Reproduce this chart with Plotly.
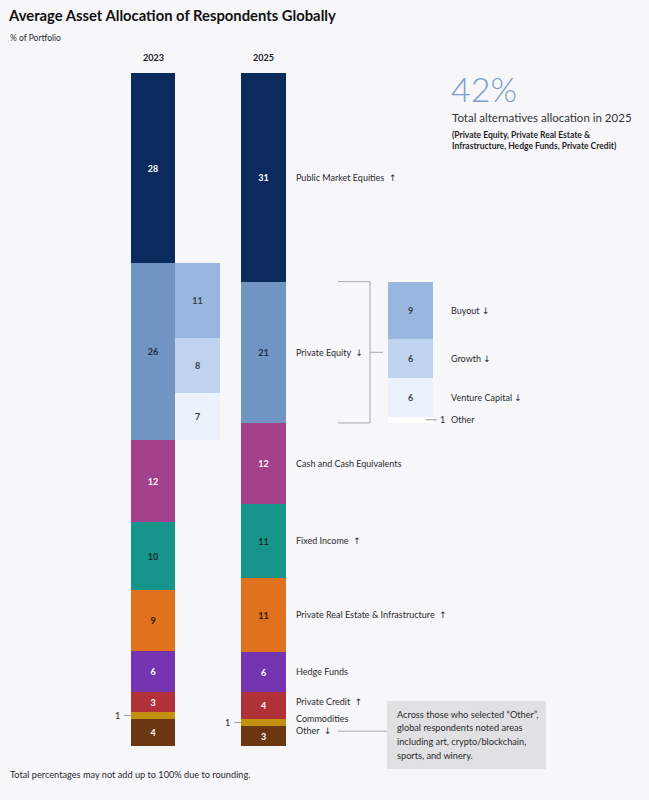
import numpy as np
import plotly.graph_objects as go

# data
years = ["2023", "2025"]
categories = ["Public Market Equities", "Private Equity", "Cash and Cash Equivalents",
              "Fixed Income", "Private Real Estate & Infrastructure", "Hedge Funds",
              "Private Credit", "Commodities", "Other"]
alloc_2023 = [28, 26, 12, 10, 9, 6, 3, 1, 4]
alloc_2025 = [31, 21, 12, 11, 11, 6, 4, 1, 3]
trend_2025 = ["↑", "↓", "", "↑", "↑", "", "↑", "", "↓"]

pe_sub_labels = ["Buyout", "Growth", "Venture Capital", "Other"]
pe_sub_2023 = [11, 8, 7]
pe_sub_2025 = [9, 6, 6, 1]
pe_sub_trend = ["↓", "↓", "↓", ""]
alt_total_2025 = 42

note_lines = ["Across those who selected “Other”,", "global respondents noted areas",
              "including art, crypto/blockchain,", "sports, and winery."]

# styling
colors = ["#0b2b5e", "#7195c3", "#a3418c", "#17958a", "#e0711d",
          "#7535b0", "#b03137", "#c2900c", "#6b3611"]
text_colors = ["white", "#1b2b4b", "white", "#1b2b2b", "#2b1b0b",
               "white", "white", "white", "white"]
sub_colors = ["#98b6de", "#bfd3ee", "#ebf2fb", "#ffffff"]
BG = "#f7f7fa"
FONT = "Lato, 'DejaVu Sans', sans-serif"
TXT = "#2a2a2a"

X23, X23_SUB, X25, X25_SUB = 153, 197.5, 263.5, 410.5
BAR_W = 44.5
TOP_PX, PX_PER_UNIT, H, W = 73, 6.73, 800, 649
LABEL_X = 294


def py(px):
    return 1 - px / H


def arrow(s):
    # arrows drawn with DejaVu so they stay plain dark glyphs
    return f"<span style='font-family:DejaVu Sans'>{s}</span>" if s else ""


# rounded shares don't always add to 100, each column is drawn full height
h23 = np.array(alloc_2023) * 100 / sum(alloc_2023)
h25 = np.array(alloc_2025) * 100 / sum(alloc_2025)
base23 = np.concatenate([[0], np.cumsum(h23)[:-1]])
base25 = np.concatenate([[0], np.cumsum(h25)[:-1]])

fig = go.Figure()

for i, cat in enumerate(categories):
    txt = ["", ""] if cat == "Commodities" else [str(alloc_2023[i]), str(alloc_2025[i])]
    fig.add_trace(go.Bar(
        x=[X23, X25], y=[h23[i], h25[i]], base=[base23[i], base25[i]],
        width=BAR_W, marker=dict(color=colors[i], line=dict(width=0)),
        text=txt, textposition="inside", insidetextanchor="middle", textangle=0,
        textfont=dict(color=text_colors[i], size=9, family=FONT, weight="bold"),
        name=cat, showlegend=False, hoverinfo="skip"))

# private equity breakdown, 2023 (next to the bar)
sub_h23 = np.array(pe_sub_2023) * h23[1] / sum(pe_sub_2023)
sub_base23 = base23[1] + np.concatenate([[0], np.cumsum(sub_h23)[:-1]])
for j, v in enumerate(pe_sub_2023):
    fig.add_trace(go.Bar(
        x=[X23_SUB], y=[sub_h23[j]], base=[sub_base23[j]], width=BAR_W,
        marker=dict(color=sub_colors[j], line=dict(width=0)),
        text=[str(v)], textposition="inside", insidetextanchor="middle", textangle=0,
        textfont=dict(color="#3a3f4a", size=9, family=FONT, weight="bold"),
        showlegend=False, hoverinfo="skip"))

# private equity breakdown, 2025 (bracketed, squeezed to the 21 it splits)
sub_h25 = np.array(pe_sub_2025) * h25[1] / sum(pe_sub_2025)
sub_base25 = base25[1] + np.concatenate([[0], np.cumsum(sub_h25)[:-1]])
for j, v in enumerate(pe_sub_2025):
    ym = sub_base25[j] + sub_h25[j] / 2
    fig.add_trace(go.Bar(
        x=[X25_SUB], y=[sub_h25[j]], base=[sub_base25[j]], width=BAR_W,
        marker=dict(color=sub_colors[j], line=dict(width=0)),
        text=[str(v) if v > 1 else ""], textposition="inside", insidetextanchor="middle",
        textangle=0, textfont=dict(color="#3a3f4a", size=9, family=FONT, weight="bold"),
        showlegend=False, hoverinfo="skip"))
    lab = pe_sub_labels[j] + (" " + arrow(pe_sub_trend[j]) if pe_sub_trend[j] else "")
    fig.add_annotation(x=449, y=ym, text=lab, xanchor="left",
                       yanchor="middle", showarrow=False,
                       font=dict(size=9, color=TXT, family=FONT))
    if v == 1:
        fig.add_annotation(x=437.5, y=ym, text=str(v), xanchor="left",
                           yanchor="middle", showarrow=False,
                           font=dict(size=9, color=TXT, family=FONT))
        fig.add_shape(type="line", x0=426, x1=437, y0=ym, y1=ym,
                      line=dict(color="#9a9a9a", width=1))

# bracket linking private equity to its breakdown
pe_top, pe_bot = base25[1], base25[1] + h25[1]
for x0, x1, y0, y1 in [(338, 370, pe_top, pe_top), (338, 370, pe_bot, pe_bot),
                       (370, 370, pe_top, pe_bot),
                       (370, 383, (pe_top + pe_bot) / 2, (pe_top + pe_bot) / 2)]:
    fig.add_shape(type="line", x0=x0, x1=x1, y0=y0, y1=y1,
                  line=dict(color="#a8a8a8", width=1))

# category labels to the right of 2025
label_shift = [0, 0, 0, 0, 0, 0, 4, 4, 5]
for i, cat in enumerate(categories):
    lab = cat + ("  " + arrow(trend_2025[i]) if trend_2025[i] else "")
    fig.add_annotation(x=LABEL_X, y=base25[i] + h25[i] / 2, yshift=label_shift[i],
                       text=lab, xanchor="left", yanchor="middle", showarrow=False,
                       font=dict(size=9, color=TXT, family=FONT))

# the tiny commodities slices get a call-out
ci = categories.index("Commodities")
for xc, b, hh, v in [(X23, base23[ci], h23[ci], alloc_2023[ci]),
                     (X25, base25[ci], h25[ci], alloc_2025[ci])]:
    ym = b + hh / 2
    left = xc - BAR_W / 2
    fig.add_shape(type="line", x0=left - 7, x1=left, y0=ym, y1=ym,
                  line=dict(color="#9a9a9a", width=1))
    fig.add_annotation(x=left - 9, y=ym, text=str(v), xanchor="right", yanchor="middle",
                       showarrow=False, font=dict(size=9, color=TXT, family=FONT))

# note about "Other"
oi = categories.index("Other")
y_other = base25[oi] + h25[oi] / 2 - 0.7
fig.add_shape(type="line", x0=338, x1=387, y0=y_other, y1=y_other,
              line=dict(color="#a8a8a8", width=1))
fig.add_shape(type="rect", xref="x", yref="paper", x0=387, x1=546, y0=py(769), y1=py(701),
              fillcolor="#e1e1e3", line=dict(width=0), layer="below")
for k, line in enumerate(note_lines):
    fig.add_annotation(xref="x", yref="paper", x=395, y=py(714 + 13.7 * k), xanchor="left",
                       yanchor="middle", showarrow=False, text=line,
                       font=dict(size=9.2, color=TXT, family=FONT))

# year headers
for xc, yr in [(X23, years[0]), (X25, years[1])]:
    fig.add_annotation(xref="x", yref="paper", x=xc, y=py(57), text=yr, showarrow=False,
                       yanchor="middle", font=dict(size=9, color="#1a1a1a", family=FONT,
                                                   weight="bold"))

# callout at top right
fig.add_annotation(xref="x", yref="paper", x=449, y=py(89), text=f"{alt_total_2025}%",
                   xanchor="left", yanchor="middle", showarrow=False,
                   font=dict(size=34, color="#7b9ccc", family=FONT, weight=300))
fig.add_annotation(xref="x", yref="paper", x=450, y=py(118),
                   text="Total alternatives allocation in 2025", xanchor="left",
                   yanchor="middle", showarrow=False,
                   font=dict(size=11.5, color="#333333", family=FONT))
fig.add_annotation(xref="x", yref="paper", x=450, y=py(140),
                   text="(Private Equity, Private Real Estate &<br>Infrastructure, Hedge Funds, "
                        "Private Credit)",
                   xanchor="left", yanchor="middle", align="left", showarrow=False,
                   font=dict(size=8.5, color="#1f1f1f", family=FONT, weight="bold"))

# title, subtitle, footnote
fig.add_annotation(xref="paper", yref="paper", x=6 / W, y=py(15),
                   text="<b>Average Asset Allocation of Respondents Globally</b>",
                   xanchor="left", yanchor="middle", showarrow=False,
                   font=dict(size=14.8, color="#111111", family=FONT))
fig.add_annotation(xref="paper", yref="paper", x=8 / W, y=py(38), text="% of Portfolio",
                   xanchor="left", yanchor="middle", showarrow=False,
                   font=dict(size=8.5, color=TXT, family=FONT))
fig.add_annotation(xref="paper", yref="paper", x=8 / W, y=py(774),
                   text="Total percentages may not add up to 100% due to rounding.",
                   xanchor="left", yanchor="middle", showarrow=False,
                   font=dict(size=9.2, color=TXT, family=FONT))

fig.update_xaxes(range=[0, W], visible=False, fixedrange=True)
fig.update_yaxes(range=[(H - TOP_PX) / PX_PER_UNIT, -TOP_PX / PX_PER_UNIT],
                 visible=False, fixedrange=True)
fig.update_layout(
    width=W, height=H, barmode="overlay", bargap=0,
    margin=dict(l=0, r=0, t=0, b=0),
    paper_bgcolor=BG, plot_bgcolor=BG,
    font=dict(family=FONT),
    uniformtext=dict(minsize=8, mode="show"),
)

fig.write_html("out.html", config={"displayModeBar": False},
               post_script="document.body.style.margin='0';")
